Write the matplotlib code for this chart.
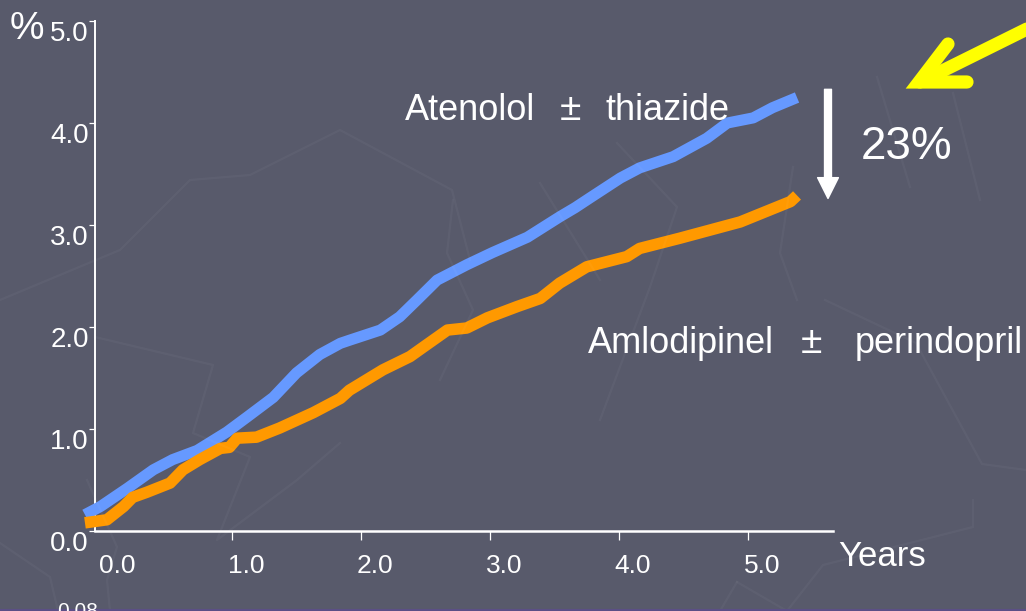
import matplotlib
matplotlib.use("Agg")
import matplotlib.pyplot as plt
from matplotlib.transforms import ScaledTranslation
from matplotlib.patches import FancyArrowPatch

plt.rcParams['font.family'] = ['Liberation Sans', 'DejaVu Sans']

# cumulative incidence (%) against follow-up time (years)
years_aten = [-0.14, -0.02, 0.19, 0.39, 0.54, 0.73, 0.96, 1.12, 1.32, 1.50, 1.68,
              1.84, 1.91, 2.15, 2.30, 2.43, 2.59, 2.82, 3.02, 3.29, 3.54, 3.66,
              3.78, 4.01, 4.16, 4.42, 4.68, 4.84, 5.04, 5.19, 5.38]
pct_aten = [0.16, 0.24, 0.42, 0.60, 0.70, 0.79, 0.97, 1.12, 1.31, 1.55, 1.73,
            1.84, 1.87, 1.97, 2.10, 2.26, 2.46, 2.61, 2.73, 2.88, 3.08, 3.17,
            3.27, 3.46, 3.56, 3.67, 3.85, 4.00, 4.05, 4.15, 4.25]

years_amlo = [-0.14, 0.03, 0.16, 0.23, 0.34, 0.52, 0.62, 0.75, 0.91, 0.98, 1.04,
              1.19, 1.37, 1.63, 1.84, 1.91, 2.17, 2.38, 2.48, 2.67, 2.82, 2.98,
              3.21, 3.39, 3.54, 3.75, 4.06, 4.16, 4.47, 4.94, 5.33, 5.38]
pct_amlo = [0.08, 0.11, 0.24, 0.33, 0.38, 0.47, 0.60, 0.70, 0.81, 0.82, 0.91,
            0.92, 1.01, 1.16, 1.30, 1.38, 1.58, 1.71, 1.80, 1.97, 1.99, 2.09,
            2.20, 2.28, 2.43, 2.59, 2.69, 2.77, 2.87, 3.03, 3.23, 3.29]

xticks = [0, 1, 2, 3, 4, 5]
xtick_labels = ['0.0', '1.0', '2.0', '3.0', '4.0', '5.0']
yticks = [0, 1, 2, 3, 4, 5]
ytick_labels = ['0.0', '1.0', '2.0', '3.0', '4.0', '5.0']
aten_label = ('Atenolol', '±', 'thiazide')
amlo_label = ('Amlodipinel', '±', 'perindopril')
reduction = '23%'

BG = '#585a6b'
BLUE = '#6699ff'
ORANGE = '#ff9900'

W, H = 1026, 611


def fx(px):
    return px / W


def fy(py):
    return 1 - py / H


# faint zigzag lines of the slide background
bg_paths = [
    [(95, 337), (213, 365), (193, 433), (250, 457), (217, 540), (297, 480), (340, 443)],
    [(0, 543), (50, 577), (58, 611)],
    [(87, 480), (117, 547), (107, 580), (110, 611)],
    [(0, 300), (120, 250), (190, 180), (250, 175), (340, 130), (452, 190), (470, 260)],
    [(453, 200), (447, 253), (473, 310), (440, 380)],
    [(540, 183), (600, 280)],
    [(617, 143), (677, 207), (650, 287), (600, 420)],
    [(793, 167), (780, 253), (797, 300)],
    [(973, 500), (973, 527), (823, 565), (787, 611)],
    [(737, 582), (720, 611)],
    [(737, 582), (787, 611)],
    [(877, 77), (910, 187)],
    [(953, 93), (980, 200)],
    [(825, 300), (916, 343), (982, 464), (1026, 470)],
]

fig = plt.figure(figsize=(W / 100, H / 100), dpi=100)
fig.patch.set_facecolor(BG)

for path in bg_paths:
    xs = [fx(p[0]) for p in path]
    ys = [fy(p[1]) for p in path]
    fig.add_artist(plt.Line2D(xs, ys, transform=fig.transFigure,
                              color='white', alpha=0.035, lw=1.6))

ax = fig.add_axes([fx(95), fy(531), fx(833) - fx(95), fy(21) - fy(531)])
ax.set_facecolor('none')
ax.set_xlim(-8 / 129, (833 - 103) / 129)
ax.set_ylim(0, 5)

ax.plot(years_aten, pct_aten, color=BLUE, lw=8, solid_capstyle='butt',
        solid_joinstyle='round', clip_on=False, zorder=3)
ax.plot(years_amlo, pct_amlo, color=ORANGE, lw=8.3, solid_capstyle='butt',
        solid_joinstyle='round', clip_on=False, zorder=4)

for side in ['top', 'right']:
    ax.spines[side].set_visible(False)
ax.spines['left'].set_color('white')
ax.spines['left'].set_linewidth(1.4)
ax.spines['bottom'].set_color('white')
ax.spines['bottom'].set_linewidth(1.8)

ax.set_xticks(xticks)
ax.set_xticklabels(xtick_labels)
ax.set_yticks(yticks)
ax.set_yticklabels(ytick_labels)
ax.tick_params(axis='x', direction='out', length=6.5, width=0.9, colors='white',
               labelsize=19, pad=10)
ax.tick_params(axis='y', direction='out', length=4.5, width=0.9, colors='white',
               labelsize=20, pad=0)
ax.xaxis.get_major_ticks()[0].tick1line.set_visible(False)

for lab in ax.get_xticklabels():
    lab.set_transform(lab.get_transform() + ScaledTranslation(0.14, 0, fig.dpi_scale_trans))
for lab in ax.get_yticklabels():
    lab.set_transform(lab.get_transform() + ScaledTranslation(0, -0.10, fig.dpi_scale_trans))

fig.text(fx(10), fy(29), '%', color='white', fontsize=28, va='center', ha='left')
fig.text(fx(838), fy(556), 'Years', color='white', fontsize=25, va='center', ha='left')

# curve labels: name, sign, partner drug
fig.text(fx(405), fy(120), aten_label[0], color='white', fontsize=26, va='baseline', ha='left')
fig.text(fx(570), fy(120), aten_label[1], color='white', fontsize=28, va='baseline', ha='center')
fig.text(fx(730), fy(120), aten_label[2], color='white', fontsize=26, va='baseline', ha='right')
fig.text(fx(588), fy(353), amlo_label[0], color='white', fontsize=26, va='baseline', ha='left')
fig.text(fx(811), fy(353), amlo_label[1], color='white', fontsize=28, va='baseline', ha='center')
fig.text(fx(1023), fy(353), amlo_label[2], color='white', fontsize=26, va='baseline', ha='right')

fig.text(fx(861), fy(147), reduction, color='white', fontsize=33, va='center', ha='left')

# white arrow from the top curve end down to the lower one
arrow_x = (828 - 103) / 129
ax.add_patch(FancyArrowPatch((arrow_x, pct_aten[-1] + 0.08), (arrow_x, pct_amlo[-1] - 0.03),
                             arrowstyle='simple,head_width=15,head_length=15,tail_width=5',
                             mutation_scale=1, color='white', shrinkA=0, shrinkB=0,
                             clip_on=False, zorder=5))

# yellow pointer arrow in the corner
fig.add_artist(plt.Line2D([fx(1035), fx(920)], [fy(25), fy(82)], transform=fig.transFigure,
                          color='#ffff00', lw=9.5, solid_capstyle='round'))
fig.add_artist(plt.Line2D([fx(948), fx(919), fx(967)], [fy(44), fy(82), fy(82)],
                          transform=fig.transFigure, color='#ffff00', lw=9.5,
                          solid_capstyle='round', solid_joinstyle='miter'))

# top of the next element's axis label, cut by the bottom edge
fig.text(fx(57), fy(602), '0.08', color='white', fontsize=15, va='top', ha='left')
fig.add_artist(plt.Line2D([0, 1], [fy(610), fy(610)], transform=fig.transFigure,
                          color='#5b4f86', lw=1.5))

fig.savefig('out.png', dpi=100, facecolor=BG)
